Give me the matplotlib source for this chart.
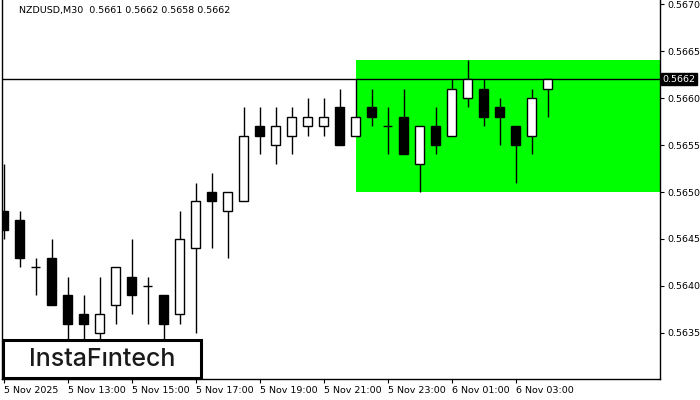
import matplotlib
matplotlib.use("Agg")
import matplotlib.pyplot as plt
from matplotlib.patches import Rectangle
from matplotlib.transforms import blended_transform_factory

# ---- data (NZDUSD M30, 5 Nov 2025 11:00 onwards) ----
opens = [0.5648, 0.5647, 0.5642, 0.5643, 0.5639, 0.5637, 0.5635, 0.5638, 0.5641, 0.5640,
         0.5639, 0.5637, 0.5644, 0.5650, 0.5648, 0.5649, 0.5657, 0.5655, 0.5656, 0.5657,
         0.5657, 0.5659, 0.5656, 0.5659, 0.5657, 0.5658, 0.5653, 0.5657, 0.5656, 0.5660,
         0.5661, 0.5659, 0.5657, 0.5656, 0.5661]
highs = [0.5653, 0.5648, 0.5643, 0.5645, 0.5641, 0.5639, 0.5641, 0.5642, 0.5645, 0.5641,
         0.5639, 0.5648, 0.5651, 0.5652, 0.5650, 0.5659, 0.5659, 0.5659, 0.5659, 0.5660,
         0.5660, 0.5661, 0.5662, 0.5661, 0.5659, 0.5661, 0.5657, 0.5659, 0.5662, 0.5664,
         0.5662, 0.5660, 0.5657, 0.5661, 0.5662]
lows = [0.5645, 0.5642, 0.5639, 0.5638, 0.5633, 0.5633, 0.5633, 0.5636, 0.5637, 0.5636,
        0.5633, 0.5636, 0.5635, 0.5644, 0.5643, 0.5649, 0.5654, 0.5653, 0.5654, 0.5656,
        0.5656, 0.5655, 0.5656, 0.5657, 0.5654, 0.5654, 0.5650, 0.5654, 0.5656, 0.5659,
        0.5657, 0.5655, 0.5651, 0.5654, 0.5658]
closes = [0.5646, 0.5643, 0.5642, 0.5638, 0.5636, 0.5636, 0.5637, 0.5642, 0.5639, 0.5640,
          0.5636, 0.5645, 0.5649, 0.5649, 0.5650, 0.5656, 0.5656, 0.5657, 0.5658, 0.5658,
          0.5658, 0.5655, 0.5658, 0.5658, 0.5657, 0.5654, 0.5657, 0.5655, 0.5661, 0.5662,
          0.5658, 0.5658, 0.5655, 0.5660, 0.5662]

x_tick_labels = ["5 Nov 2025", "5 Nov 13:00", "5 Nov 15:00", "5 Nov 17:00", "5 Nov 19:00",
                 "5 Nov 21:00", "5 Nov 23:00", "6 Nov 01:00", "6 Nov 03:00"]
y_ticks = [0.5635, 0.5640, 0.5645, 0.5650, 0.5655, 0.5660, 0.5665, 0.5670]
current_price = 0.5662
zone_low, zone_high = 0.5650, 0.5664
zone_start = 22
title = "NZDUSD,M30  0.5661 0.5662 0.5658 0.5662"

# ---- figure ----
W, H = 700, 400
fig = plt.figure(figsize=(7, 4), dpi=100)
ax = fig.add_axes([2 / W, 21 / H, 658 / W, 379 / H])
ax.set_facecolor("white")

n = len(opens)
xs = list(range(n))
ax.set_xlim(-0.094, 41.03)
ax.set_ylim(0.5630106, 0.5670426)

# green zone
ax.add_patch(Rectangle((zone_start, zone_low), 100, zone_high - zone_low,
                       facecolor="#00FF00", edgecolor="none", zorder=1))
# current price line
ax.axhline(current_price, color="black", lw=1.0, zorder=2)

bw = 0.62
for i in xs:
    o, h, l, c = opens[i], highs[i], lows[i], closes[i]
    ax.vlines(i, l, h, color="black", lw=1.0, zorder=3)
    if abs(c - o) < 1e-9:
        ax.hlines(o, i - bw / 2, i + bw / 2, color="black", lw=1.0, zorder=4)
    else:
        fc = "white" if c > o else "black"
        ax.add_patch(Rectangle((i - bw / 2, min(o, c)), bw, abs(c - o),
                               facecolor=fc, edgecolor="black", lw=1.0, zorder=4))

# spines
for s in ["left", "right", "bottom"]:
    ax.spines[s].set_color("black")
    ax.spines[s].set_linewidth(1.0)
ax.spines["top"].set_visible(False)

# ticks
ax.yaxis.tick_right()
ax.set_yticks(y_ticks)
ax.set_yticklabels([f"{v:.4f}" for v in y_ticks])
ax.tick_params(axis="y", direction="out", length=3, width=0.8, pad=2,
               labelsize=6.8, colors="black")
ax.set_xticks(list(range(0, 4 * len(x_tick_labels), 4)))
ax.set_xticklabels(x_tick_labels, ha="left")
ax.tick_params(axis="x", direction="out", length=3, width=0.8, pad=2,
               labelsize=6.8, colors="black")

# title
ax.text(17 / 658, 1 - 11 / 379, title, transform=ax.transAxes, fontsize=6.8,
        ha="left", va="center", color="black")

# current price label
tr = blended_transform_factory(ax.transAxes, ax.transData)
ax.text(1.004, current_price, f"{current_price:.4f}", transform=tr, fontsize=6.8,
        ha="left", va="center", color="white", clip_on=False, zorder=10,
        bbox=dict(boxstyle="square,pad=0.18", facecolor="black", edgecolor="black"))

# logo box
fig.add_artist(Rectangle((3 / W, 22 / H), 198 / W, 38 / H, transform=fig.transFigure,
                         facecolor="white", edgecolor="black", lw=2.2, zorder=10))
fig.text(102 / W, (H - 359) / H, "InstaF\u0131ntech", ha="center", va="center",
         fontsize=18, family="Inter", fontweight="medium", color="#1a1a1a", zorder=11)

fig.savefig("out.png", dpi=100)
